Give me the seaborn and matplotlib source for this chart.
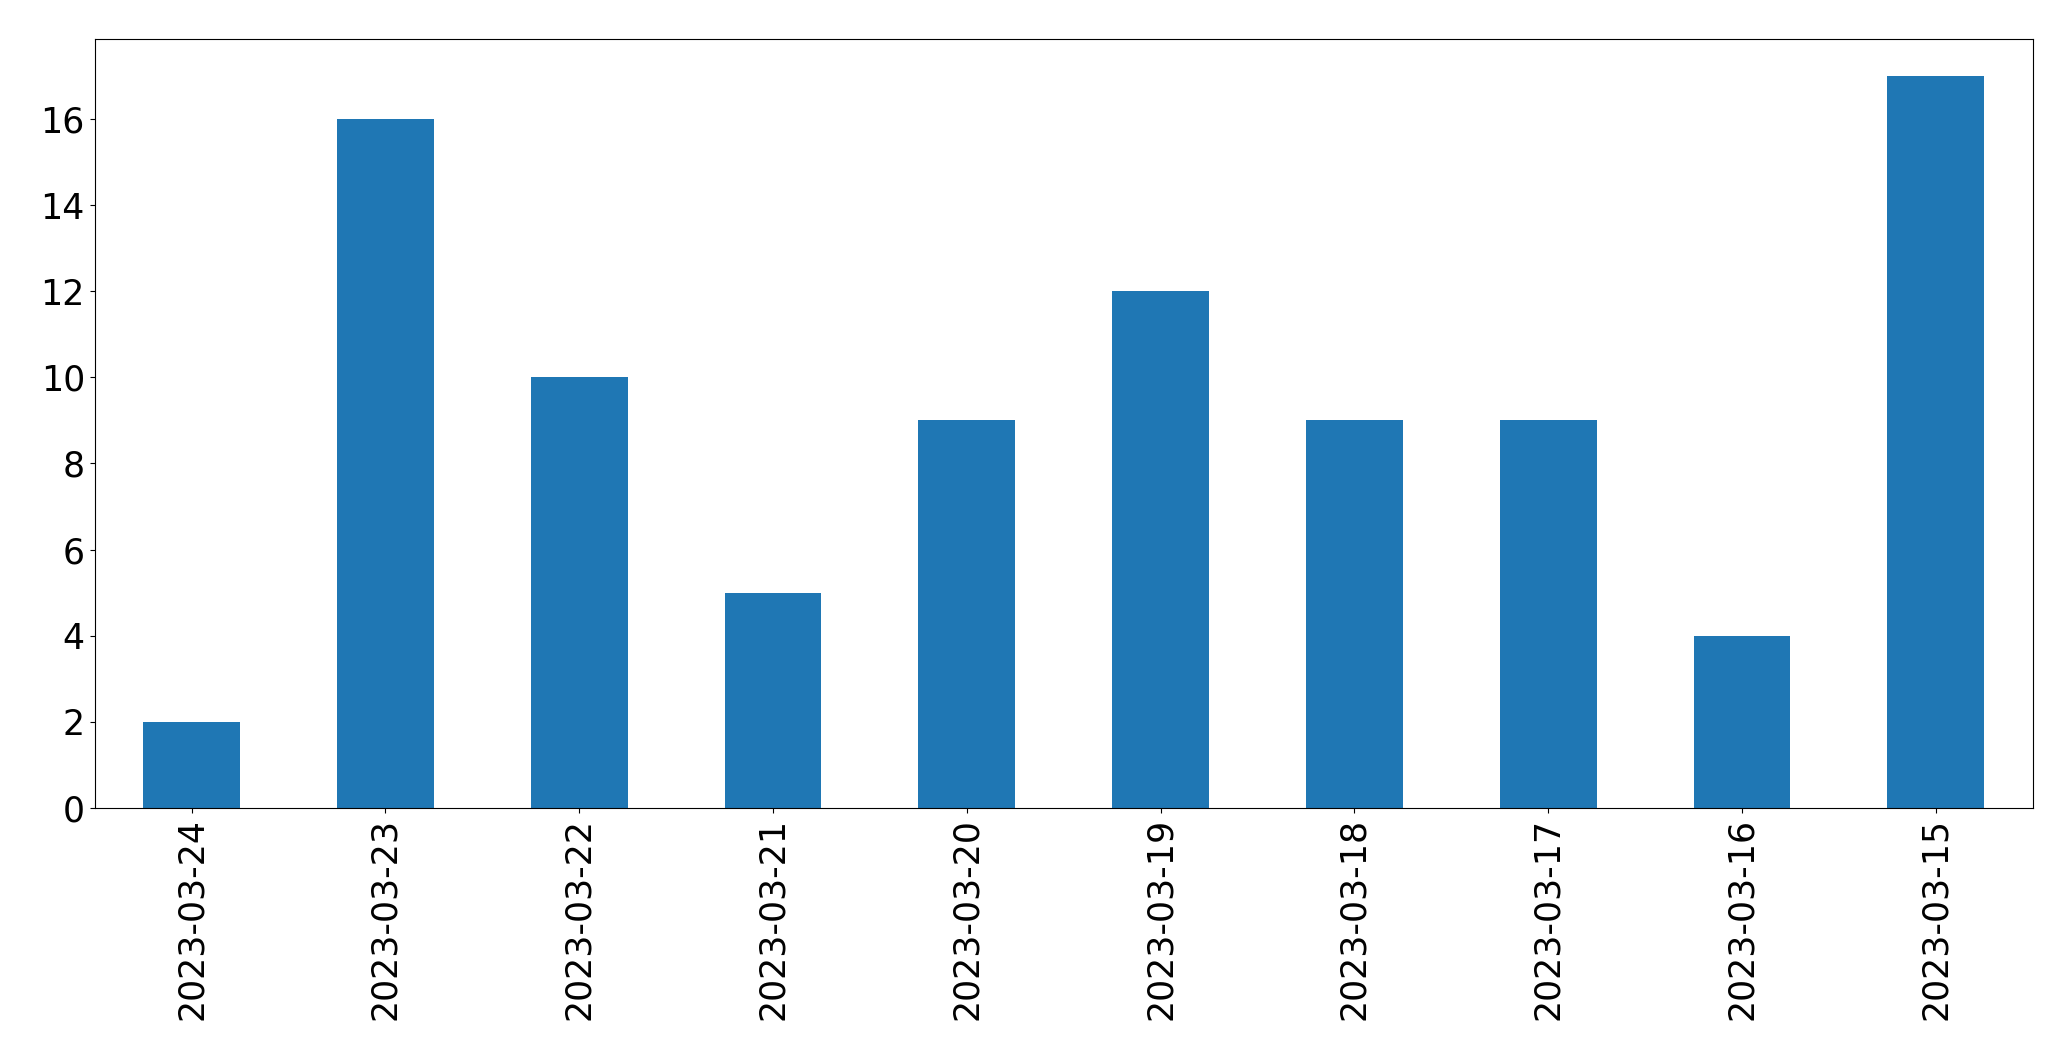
import matplotlib
matplotlib.use("Agg")
import matplotlib.pyplot as plt
import seaborn as sns
import pandas as pd

dates = ["2023-03-24", "2023-03-23", "2023-03-22", "2023-03-21", "2023-03-20",
         "2023-03-19", "2023-03-18", "2023-03-17", "2023-03-16", "2023-03-15"]
counts = [2, 16, 10, 5, 9, 12, 9, 9, 4, 17]

df = pd.DataFrame({"date": dates, "count": counts})

plt.rcParams["font.family"] = ["DejaVu Sans"]
fig, ax = plt.subplots(figsize=(20.71, 10.61), dpi=100)
fig.subplots_adjust(left=0.0457, right=0.9815, top=0.963, bottom=0.2385)

sns.barplot(data=df, x="date", y="count", order=dates, color="#1f77b4",
            saturation=1, width=0.5, ax=ax)
ax.set_xlim(-0.5, len(dates) - 0.5)
ax.set_ylim(0, max(counts) * 1.05)
ax.set_xlabel("")
ax.set_ylabel("")
ax.tick_params(axis="both", labelsize=25)
ax.tick_params(axis="x", labelrotation=90)
for s in ax.spines.values():
    s.set_color("black")

fig.savefig("out.png", dpi=100)
